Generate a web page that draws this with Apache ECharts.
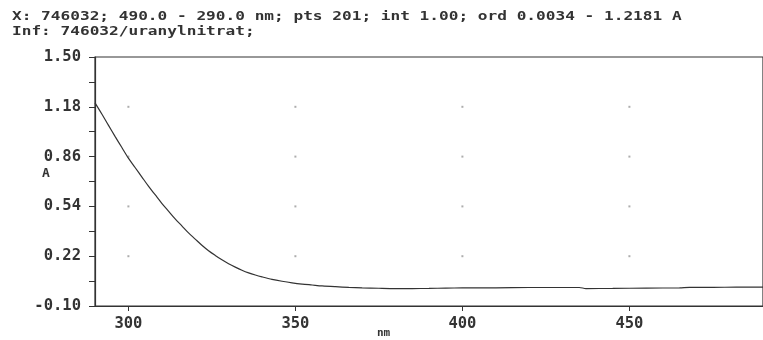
<!DOCTYPE html>
<html>
<head>
<meta charset="utf-8">
<script src="https://cdn.jsdelivr.net/npm/echarts@6/dist/echarts.min.js"></script>
<style>
html,body{margin:0;padding:0;background:#fff;}
#c{width:763px;height:340px;}
</style>
</head>
<body>
<div id="c"></div>
<script>
// Header texts
var headerLine1 = "X: 746032; 490.0 - 290.0 nm; pts 201; int 1.00; ord 0.0034 - 1.2181 A";
var headerLine2 = "Inf: 746032/uranylnitrat;";
var yUnit = "A";
var xUnit = "nm";

// Spectrum (wavelength nm, absorbance A)
var wavelengths = [290,292,294,296,298,300,302,304,306,308,310,312,314,316,318,320,322,324,326,328,330,332,334,336,338,340,343,346,349,352,355,358,362,366,370,375,380,385,390,395,400,410,420,430,435,437,445,455,465,468,475,482,490];
var absorbance  = [1.205,1.135,1.062,0.99,0.92,0.85,0.79,0.73,0.67,0.615,0.56,0.51,0.46,0.415,0.37,0.33,0.29,0.255,0.225,0.197,0.172,0.150,0.130,0.113,0.099,0.087,0.071,0.059,0.049,0.041,0.035,0.029,0.024,0.020,0.017,0.014,0.012,0.012,0.013,0.015,0.016,0.017,0.019,0.019,0.019,0.012,0.013,0.015,0.017,0.020,0.020,0.021,0.021];

// Axis ticks
var yTicks = [-0.10, 0.22, 0.54, 0.86, 1.18, 1.50];
var xGridTicks = [300, 350, 400, 450];
var yGridTicks = [1.18, 0.86, 0.54, 0.22];

var curve = wavelengths.map(function(w, i){ return [w, absorbance[i]]; });
var dots = [];
xGridTicks.forEach(function(x){ yGridTicks.forEach(function(y){ dots.push([x, y]); }); });

var chart = echarts.init(document.getElementById('c'), null, {renderer:'canvas'});
var mono = "'DejaVu Sans Mono', 'Liberation Mono', monospace";
chart.setOption({
  animation: false,
  backgroundColor: '#fff',
  grid: {left: 95, top: 57, width: 677, height: 249, show: true, borderColor: '#333', borderWidth: 1.2, backgroundColor: 'transparent'},
  xAxis: {
    type: 'value', min: 290, max: 490, splitNumber: 4,
    axisLine: {show: true, onZero: false, lineStyle: {color: '#333', width: 1.2}},
    axisTick: {show: true, inside: false, length: 5, lineStyle: {color: '#333'}},
    axisLabel: {show: true, margin: 10, fontFamily: mono, fontWeight: 'bold', fontSize: 15.5, color: '#333', showMinLabel: false, showMaxLabel: false},
    splitLine: {show: false}
  },
  yAxis: {
    type: 'value', min: yTicks[0], max: yTicks[yTicks.length-1], interval: 0.32,
    axisLine: {show: true, onZero: false, lineStyle: {color: '#333', width: 1.2}},
    axisTick: {show: true, inside: false, length: 6, lineStyle: {color: '#333'}},
    minorTick: {show: true, splitNumber: 2, length: 6, lineStyle: {color: '#333'}},
    axisLabel: {margin: 14, fontFamily: mono, fontWeight: 'bold', fontSize: 15.5, color: '#333',
      formatter: function(v){ return v.toFixed(2); }},
    splitLine: {show: false}
  },
  graphic: [
    {type: 'text', left: 12, top: 10, scaleX: 1.24, style: {text: headerLine1, font: "bold 13px " + mono, fill: '#333'}},
    {type: 'text', left: 12, top: 25, scaleX: 1.24, style: {text: headerLine2, font: "bold 13px " + mono, fill: '#333'}},
    {type: 'text', left: 42, top: 167, style: {text: yUnit, font: "bold 13px " + mono, fill: '#333'}},
    {type: 'text', left: 377, top: 328, style: {text: xUnit, font: "bold 11px " + mono, fill: '#333'}}
  ],
  series: [
    {type: 'scatter', data: dots, symbol: 'rect', symbolSize: 2, itemStyle: {color: '#999'}, silent: true, z: 1},
    {type: 'line', data: curve, showSymbol: false, smooth: 0.3, lineStyle: {color: '#333', width: 1.2}, z: 3}
  ]
});
</script>
</body>
</html>
